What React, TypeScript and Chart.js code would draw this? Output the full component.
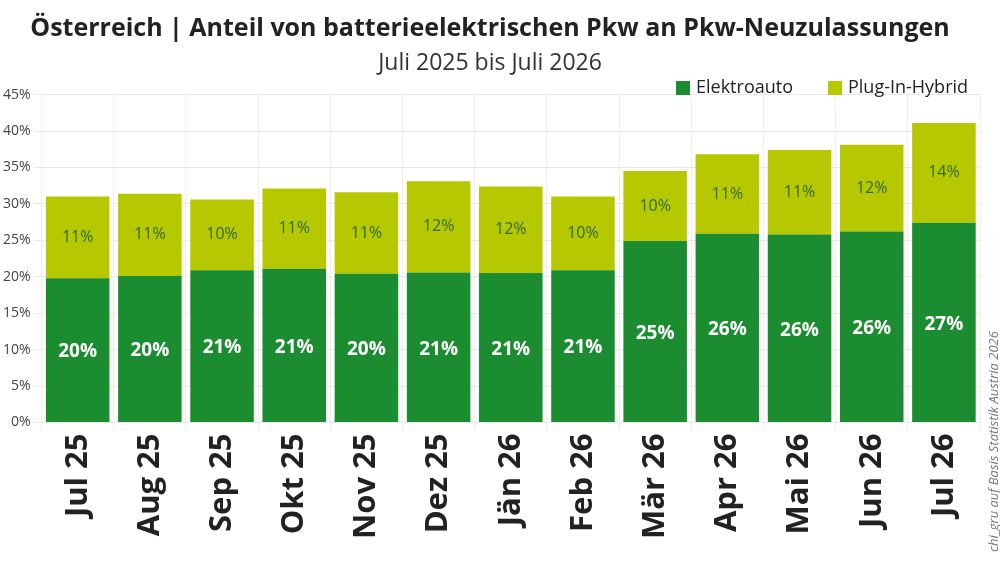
import React, { useEffect, useRef } from "react";
import { Chart, registerables } from "chart.js";
Chart.register(...registerables);

const categories = ["Jul 25","Aug 25","Sep 25","Okt 25","Nov 25","Dez 25","Jän 26","Feb 26","Mär 26","Apr 26","Mai 26","Jun 26","Jul 26"];
const bevValues = [19.8,20.1,20.9,21.1,20.4,20.6,20.5,20.9,24.9,25.9,25.8,26.2,27.4];
const phevValues = [11.2,11.3,9.7,11.0,11.2,12.5,11.9,10.1,9.6,10.9,11.6,11.9,13.7];
const bevLabels = ["20%","20%","21%","21%","20%","21%","21%","21%","25%","26%","26%","26%","27%"];
const phevLabels = ["11%","11%","10%","11%","11%","12%","12%","10%","10%","11%","11%","12%","14%"];
const FONT = "'Open Sans', 'Noto Sans', sans-serif";
const GREEN = "#1b8c30";
const LIME = "#b6c800";

const labelPlugin = {
  id: "barLabels",
  afterDatasetsDraw(chart: any) {
    const ctx = chart.ctx;
    ctx.save();
    ctx.textAlign = "center";
    ctx.textBaseline = "middle";
    const sets = [
      { i: 0, labels: bevLabels, color: "#ffffff", font: `bold 19px ${FONT}` },
      { i: 1, labels: phevLabels, color: "#2f6a1c", font: `16px ${FONT}` },
    ];
    for (const s of sets) {
      const meta = chart.getDatasetMeta(s.i);
      meta.data.forEach((bar: any, j: number) => {
        ctx.fillStyle = s.color;
        ctx.font = s.font;
        ctx.fillText(s.labels[j], bar.x, (bar.y + bar.base) / 2 + (s.i === 0 ? 2 : 0));
      });
    }
    ctx.font = `18px ${FONT}`;
    ctx.textAlign = "left";
    const items = [
      { t: "Elektroauto", c: GREEN, x: 676 },
      { t: "Plug-In-Hybrid", c: LIME, x: 828 },
    ];
    for (const it of items) {
      ctx.fillStyle = it.c;
      ctx.fillRect(it.x, 81, 14, 14);
      ctx.fillStyle = "#222";
      ctx.fillText(it.t, it.x + 20, 88);
    }
    ctx.fillStyle = "#777";
    ctx.font = `italic 13px ${FONT}`;
    ctx.translate(chart.width - 6, 552);
    ctx.rotate(-Math.PI / 2);
    ctx.fillText("chi_gru auf Basis Statistik Austria 2026", 0, 0);
    ctx.restore();
  },
};

export default function App() {
  const ref = useRef<HTMLCanvasElement>(null);
  useEffect(() => {
    const chart = new Chart(ref.current!, {
      type: "bar",
      data: {
        labels: categories,
        datasets: [
          { label: "Elektroauto", data: bevValues, backgroundColor: GREEN },
          { label: "Plug-In-Hybrid", data: phevValues, backgroundColor: LIME },
        ],
      },
      options: {
        animation: false,
        responsive: false,
        layout: { padding: { right: 20, left: 0, bottom: 24 } },
        datasets: { bar: { categoryPercentage: 0.88, barPercentage: 1 } } as any,
        plugins: {
          title: { display: true, text: "Österreich | Anteil von batterieelektrischen Pkw an Pkw-Neuzulassungen", color: "#222", font: { family: FONT, size: 25, weight: "bold" }, padding: { top: 14, bottom: 0 } },
          subtitle: { display: true, text: "Juli 2025 bis Juli 2026", color: "#333", font: { family: FONT, size: 23 }, padding: { top: 6, bottom: 17 } },
          legend: { display: false },
          tooltip: { enabled: false },
        },
        scales: {
          x: { stacked: true, grid: { color: "#eeeeee" }, border: { display: false }, ticks: { color: "#222", maxRotation: 90, minRotation: 90, font: { family: FONT, size: 31, weight: "bold" } } },
          y: { stacked: true, min: 0, max: 45, grid: { color: "#e8e8e8" }, border: { display: false }, ticks: { stepSize: 5, color: "#444", font: { family: FONT, size: 14 }, callback: (v: any) => v + "%" } },
        },
      },
      plugins: [labelPlugin],
    });
    return () => chart.destroy();
  }, []);
  return (
    <div style={{ position: "fixed", left: 0, top: 0, width: 1000, height: 566, background: "#fff" }}>
      <canvas ref={ref} width={1000} height={566} />
    </div>
  );
}
